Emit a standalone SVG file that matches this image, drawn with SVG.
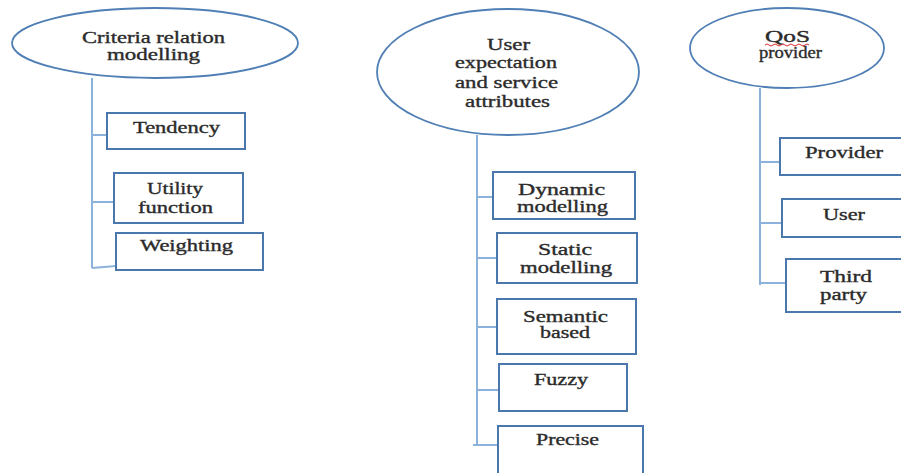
<svg xmlns="http://www.w3.org/2000/svg" width="901" height="473" viewBox="0 0 901 473">
<style>
.ell{fill:#ffffff;stroke:#4f7fb5;stroke-width:1.8}
.box{fill:#ffffff;stroke:#4a78ad;stroke-width:2}
.ln{fill:none;stroke:#8cb2dc;stroke-width:2}
.t{font-family:'Liberation Serif','DejaVu Serif','Times New Roman',serif;font-size:16px;fill:#2b2b2b;stroke:#2b2b2b;stroke-width:0.35}
</style>
<rect width="901" height="473" fill="#ffffff"/>
<g id="connectors">
  <path class="ln" d="M92,78 V268"/>
  <path class="ln" d="M92,135 H107"/>
  <path class="ln" d="M92,202 H114"/>
  <path class="ln" d="M92,268 L116,266"/>
  <path class="ln" d="M477,135 V445"/>
  <path class="ln" d="M477,197 H493"/>
  <path class="ln" d="M477,258 H497"/>
  <path class="ln" d="M477,327 H497"/>
  <path class="ln" d="M477,390 H499"/>
  <path class="ln" d="M473,445 H498"/>
  <path class="ln" d="M760,88 V285"/>
  <path class="ln" d="M760,162 H780"/>
  <path class="ln" d="M760,223 H782"/>
  <path class="ln" d="M760,283 H786"/>
</g>
<g id="n-criteria">
  <ellipse class="ell" cx="155" cy="43" rx="143" ry="35"/>
  <text class="t" x="82" y="43" textLength="143" lengthAdjust="spacingAndGlyphs">Criteria relation</text>
  <text class="t" x="107" y="60" textLength="93" lengthAdjust="spacingAndGlyphs">modelling</text>
</g>
<g id="n-tendency">
  <rect class="box" x="107" y="113" width="138" height="36"/>
  <text class="t" x="133" y="133" textLength="87" lengthAdjust="spacingAndGlyphs">Tendency</text>
</g>
<g id="n-utility">
  <rect class="box" x="114" y="173" width="129" height="50"/>
  <text class="t" x="147" y="194" textLength="56" lengthAdjust="spacingAndGlyphs">Utility</text>
  <text class="t" x="138" y="213" textLength="75" lengthAdjust="spacingAndGlyphs">function</text>
</g>
<g id="n-weighting">
  <rect class="box" x="116" y="233" width="147" height="37"/>
  <text class="t" x="140" y="251" textLength="93" lengthAdjust="spacingAndGlyphs">Weighting</text>
</g>
<g id="n-user-exp">
  <ellipse class="ell" cx="508" cy="72" rx="131" ry="63"/>
  <text class="t" x="487" y="50" textLength="43" lengthAdjust="spacingAndGlyphs">User</text>
  <text class="t" x="455" y="68" textLength="102" lengthAdjust="spacingAndGlyphs">expectation</text>
  <text class="t" x="455" y="88" textLength="103" lengthAdjust="spacingAndGlyphs">and service</text>
  <text class="t" x="465" y="107" textLength="85" lengthAdjust="spacingAndGlyphs">attributes</text>
</g>
<g id="n-dynamic">
  <rect class="box" x="493" y="172" width="142" height="47"/>
  <text class="t" x="518" y="195" textLength="87" lengthAdjust="spacingAndGlyphs">Dynamic</text>
  <text class="t" x="517" y="212" textLength="91" lengthAdjust="spacingAndGlyphs">modelling</text>
</g>
<g id="n-static">
  <rect class="box" x="497" y="233" width="140" height="50"/>
  <text class="t" x="538" y="255" textLength="54" lengthAdjust="spacingAndGlyphs">Static</text>
  <text class="t" x="520" y="273" textLength="92" lengthAdjust="spacingAndGlyphs">modelling</text>
</g>
<g id="n-semantic">
  <rect class="box" x="497" y="299" width="139" height="55"/>
  <text class="t" x="523" y="322" textLength="85" lengthAdjust="spacingAndGlyphs">Semantic</text>
  <text class="t" x="540" y="338" textLength="50" lengthAdjust="spacingAndGlyphs">based</text>
</g>
<g id="n-fuzzy">
  <rect class="box" x="499" y="364" width="128" height="47"/>
  <text class="t" x="534" y="385" textLength="54" lengthAdjust="spacingAndGlyphs">Fuzzy</text>
</g>
<g id="n-precise">
  <rect class="box" x="498" y="426" width="145" height="50"/>
  <text class="t" x="536" y="445" textLength="63" lengthAdjust="spacingAndGlyphs">Precise</text>
</g>
<g id="n-qos">
  <ellipse class="ell" cx="787" cy="48" rx="97" ry="40"/>
  <text class="t" x="765" y="42" textLength="45" lengthAdjust="spacingAndGlyphs">QoS</text>
  <path d="M765,45 q2,-2 4,0 t4,0 t4,0 t4,0 t4,0 t4,0 t4,0 t4,0 t4,0 t4,0 t4,0" fill="none" stroke="#e03030" stroke-width="1"/>
  <text class="t" x="759" y="58" textLength="63" lengthAdjust="spacingAndGlyphs">provider</text>
</g>
<g id="n-provider">
  <rect class="box" x="780" y="138" width="130" height="37"/>
  <text class="t" x="805" y="158" textLength="78" lengthAdjust="spacingAndGlyphs">Provider</text>
</g>
<g id="n-user">
  <rect class="box" x="782" y="199" width="130" height="38"/>
  <text class="t" x="823" y="220" textLength="42" lengthAdjust="spacingAndGlyphs">User</text>
</g>
<g id="n-third">
  <rect class="box" x="786" y="259" width="130" height="53"/>
  <text class="t" x="820" y="282" textLength="52" lengthAdjust="spacingAndGlyphs">Third</text>
  <text class="t" x="820" y="300" textLength="47" lengthAdjust="spacingAndGlyphs">party</text>
</g>
</svg>
